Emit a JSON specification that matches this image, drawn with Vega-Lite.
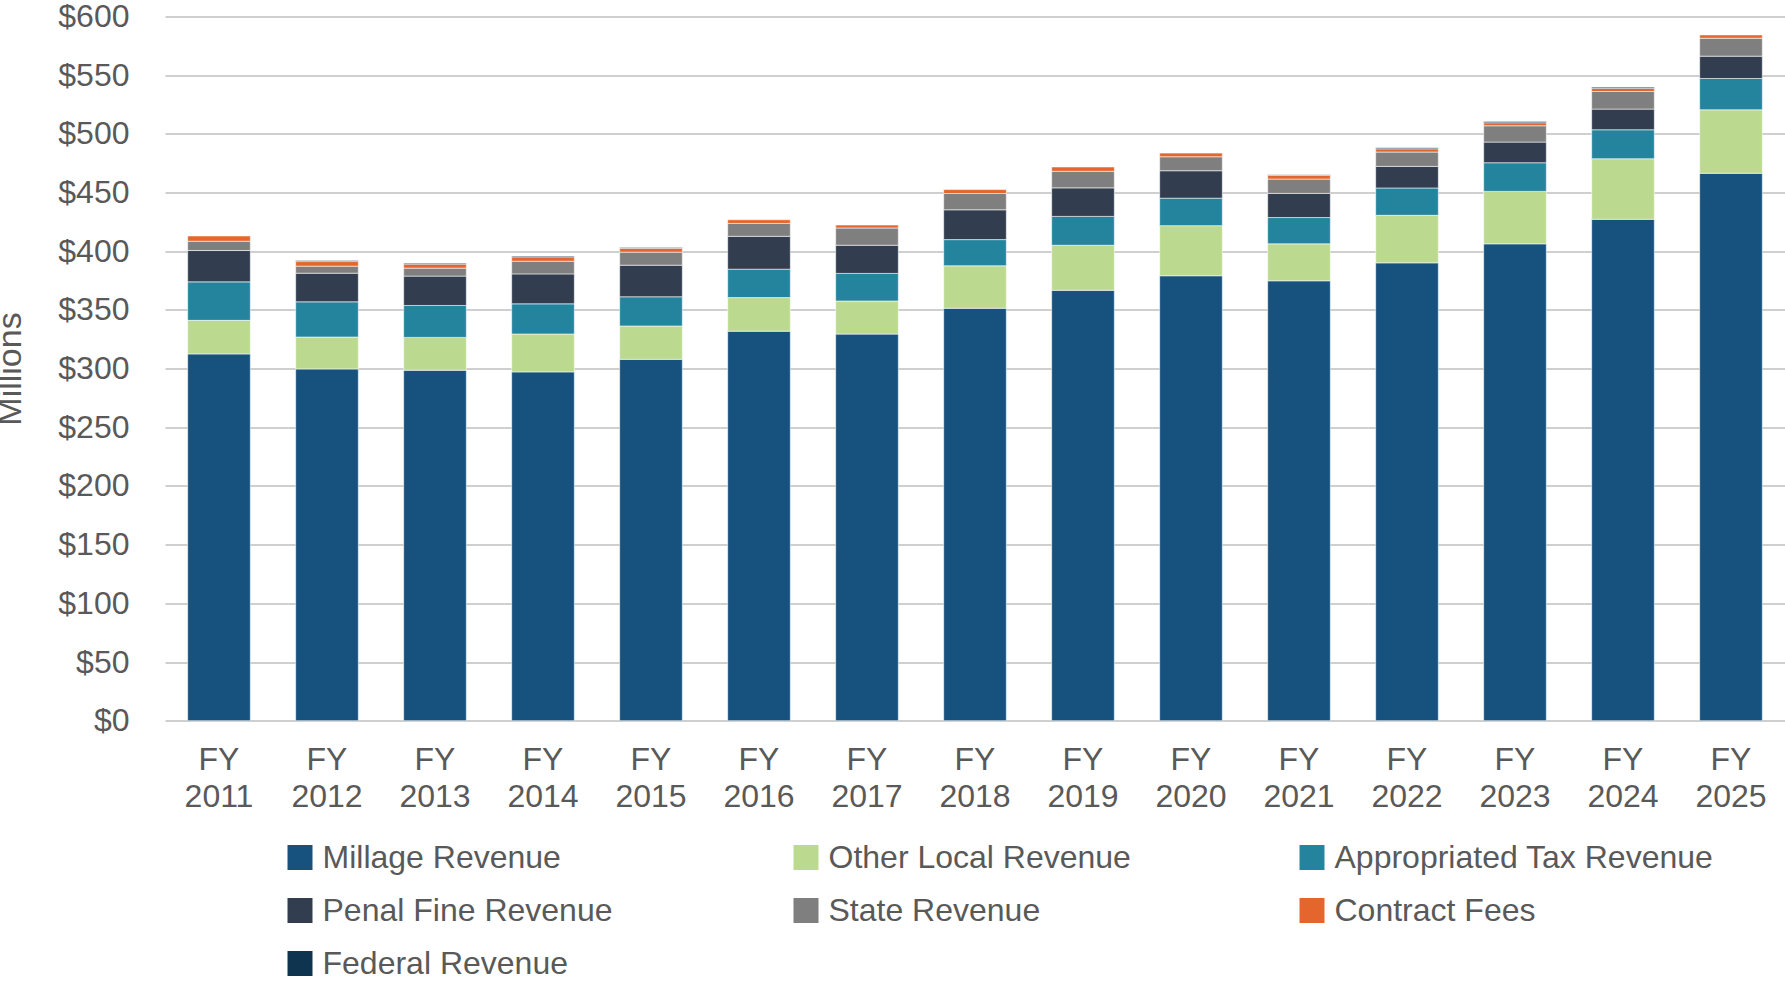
{
  "$schema": "https://vega.github.io/schema/vega-lite/v6.json",
  "width": 1620,
  "height": 704.2,
  "autosize": "none",
  "padding": {"left": 165, "top": 16.5, "right": 0, "bottom": 260.3},
  "config": {
    "view": {"stroke": null},
    "font": "Liberation Sans"
  },
  "data": {
    "values": [
      {"year": "FY 2011", "series": "Millage Revenue", "idx": 1, "value": 312.5},
      {"year": "FY 2011", "series": "Other Local Revenue", "idx": 2, "value": 28.6},
      {"year": "FY 2011", "series": "Appropriated Tax Revenue", "idx": 3, "value": 32.8},
      {"year": "FY 2011", "series": "Penal Fine Revenue", "idx": 4, "value": 26.7},
      {"year": "FY 2011", "series": "State Revenue", "idx": 5, "value": 7.9},
      {"year": "FY 2011", "series": "Contract Fees", "idx": 6, "value": 4.5},

      {"year": "FY 2012", "series": "Millage Revenue", "idx": 1, "value": 299.7},
      {"year": "FY 2012", "series": "Other Local Revenue", "idx": 2, "value": 27.2},
      {"year": "FY 2012", "series": "Appropriated Tax Revenue", "idx": 3, "value": 30.0},
      {"year": "FY 2012", "series": "Penal Fine Revenue", "idx": 4, "value": 24.4},
      {"year": "FY 2012", "series": "State Revenue", "idx": 5, "value": 6.0},
      {"year": "FY 2012", "series": "Contract Fees", "idx": 6, "value": 3.9},
      {"year": "FY 2012", "series": "Federal Revenue", "idx": 7, "value": 0.9},

      {"year": "FY 2013", "series": "Millage Revenue", "idx": 1, "value": 298.6},
      {"year": "FY 2013", "series": "Other Local Revenue", "idx": 2, "value": 28.0},
      {"year": "FY 2013", "series": "Appropriated Tax Revenue", "idx": 3, "value": 27.2},
      {"year": "FY 2013", "series": "Penal Fine Revenue", "idx": 4, "value": 25.0},
      {"year": "FY 2013", "series": "State Revenue", "idx": 5, "value": 6.8},
      {"year": "FY 2013", "series": "Contract Fees", "idx": 6, "value": 3.4},
      {"year": "FY 2013", "series": "Federal Revenue", "idx": 7, "value": 0.8},

      {"year": "FY 2014", "series": "Millage Revenue", "idx": 1, "value": 297.2},
      {"year": "FY 2014", "series": "Other Local Revenue", "idx": 2, "value": 32.3},
      {"year": "FY 2014", "series": "Appropriated Tax Revenue", "idx": 3, "value": 25.7},
      {"year": "FY 2014", "series": "Penal Fine Revenue", "idx": 4, "value": 25.5},
      {"year": "FY 2014", "series": "State Revenue", "idx": 5, "value": 10.8},
      {"year": "FY 2014", "series": "Contract Fees", "idx": 6, "value": 3.7},
      {"year": "FY 2014", "series": "Federal Revenue", "idx": 7, "value": 0.8},

      {"year": "FY 2015", "series": "Millage Revenue", "idx": 1, "value": 307.9},
      {"year": "FY 2015", "series": "Other Local Revenue", "idx": 2, "value": 28.4},
      {"year": "FY 2015", "series": "Appropriated Tax Revenue", "idx": 3, "value": 24.9},
      {"year": "FY 2015", "series": "Penal Fine Revenue", "idx": 4, "value": 26.9},
      {"year": "FY 2015", "series": "State Revenue", "idx": 5, "value": 11.1},
      {"year": "FY 2015", "series": "Contract Fees", "idx": 6, "value": 3.3},
      {"year": "FY 2015", "series": "Federal Revenue", "idx": 7, "value": 0.6},

      {"year": "FY 2016", "series": "Millage Revenue", "idx": 1, "value": 331.9},
      {"year": "FY 2016", "series": "Other Local Revenue", "idx": 2, "value": 28.6},
      {"year": "FY 2016", "series": "Appropriated Tax Revenue", "idx": 3, "value": 24.2},
      {"year": "FY 2016", "series": "Penal Fine Revenue", "idx": 4, "value": 28.0},
      {"year": "FY 2016", "series": "State Revenue", "idx": 5, "value": 11.0},
      {"year": "FY 2016", "series": "Contract Fees", "idx": 6, "value": 3.1},

      {"year": "FY 2017", "series": "Millage Revenue", "idx": 1, "value": 329.4},
      {"year": "FY 2017", "series": "Other Local Revenue", "idx": 2, "value": 28.2},
      {"year": "FY 2017", "series": "Appropriated Tax Revenue", "idx": 3, "value": 23.5},
      {"year": "FY 2017", "series": "Penal Fine Revenue", "idx": 4, "value": 24.0},
      {"year": "FY 2017", "series": "State Revenue", "idx": 5, "value": 14.7},
      {"year": "FY 2017", "series": "Contract Fees", "idx": 6, "value": 2.5},

      {"year": "FY 2018", "series": "Millage Revenue", "idx": 1, "value": 351.4},
      {"year": "FY 2018", "series": "Other Local Revenue", "idx": 2, "value": 36.2},
      {"year": "FY 2018", "series": "Appropriated Tax Revenue", "idx": 3, "value": 22.3},
      {"year": "FY 2018", "series": "Penal Fine Revenue", "idx": 4, "value": 25.4},
      {"year": "FY 2018", "series": "State Revenue", "idx": 5, "value": 13.9},
      {"year": "FY 2018", "series": "Contract Fees", "idx": 6, "value": 3.3},

      {"year": "FY 2019", "series": "Millage Revenue", "idx": 1, "value": 366.7},
      {"year": "FY 2019", "series": "Other Local Revenue", "idx": 2, "value": 38.4},
      {"year": "FY 2019", "series": "Appropriated Tax Revenue", "idx": 3, "value": 24.6},
      {"year": "FY 2019", "series": "Penal Fine Revenue", "idx": 4, "value": 24.3},
      {"year": "FY 2019", "series": "State Revenue", "idx": 5, "value": 14.1},
      {"year": "FY 2019", "series": "Contract Fees", "idx": 6, "value": 3.7},

      {"year": "FY 2020", "series": "Millage Revenue", "idx": 1, "value": 379.1},
      {"year": "FY 2020", "series": "Other Local Revenue", "idx": 2, "value": 42.7},
      {"year": "FY 2020", "series": "Appropriated Tax Revenue", "idx": 3, "value": 23.4},
      {"year": "FY 2020", "series": "Penal Fine Revenue", "idx": 4, "value": 23.4},
      {"year": "FY 2020", "series": "State Revenue", "idx": 5, "value": 11.9},
      {"year": "FY 2020", "series": "Contract Fees", "idx": 6, "value": 3.1},

      {"year": "FY 2021", "series": "Millage Revenue", "idx": 1, "value": 374.8},
      {"year": "FY 2021", "series": "Other Local Revenue", "idx": 2, "value": 31.5},
      {"year": "FY 2021", "series": "Appropriated Tax Revenue", "idx": 3, "value": 22.4},
      {"year": "FY 2021", "series": "Penal Fine Revenue", "idx": 4, "value": 20.6},
      {"year": "FY 2021", "series": "State Revenue", "idx": 5, "value": 12.2},
      {"year": "FY 2021", "series": "Contract Fees", "idx": 6, "value": 3.2},
      {"year": "FY 2021", "series": "Federal Revenue", "idx": 7, "value": 0.5},

      {"year": "FY 2022", "series": "Millage Revenue", "idx": 1, "value": 390.1},
      {"year": "FY 2022", "series": "Other Local Revenue", "idx": 2, "value": 40.5},
      {"year": "FY 2022", "series": "Appropriated Tax Revenue", "idx": 3, "value": 23.3},
      {"year": "FY 2022", "series": "Penal Fine Revenue", "idx": 4, "value": 18.4},
      {"year": "FY 2022", "series": "State Revenue", "idx": 5, "value": 12.2},
      {"year": "FY 2022", "series": "Contract Fees", "idx": 6, "value": 2.8},
      {"year": "FY 2022", "series": "Federal Revenue", "idx": 7, "value": 0.9},

      {"year": "FY 2023", "series": "Millage Revenue", "idx": 1, "value": 406.3},
      {"year": "FY 2023", "series": "Other Local Revenue", "idx": 2, "value": 44.7},
      {"year": "FY 2023", "series": "Appropriated Tax Revenue", "idx": 3, "value": 24.4},
      {"year": "FY 2023", "series": "Penal Fine Revenue", "idx": 4, "value": 17.6},
      {"year": "FY 2023", "series": "State Revenue", "idx": 5, "value": 13.9},
      {"year": "FY 2023", "series": "Contract Fees", "idx": 6, "value": 2.6},
      {"year": "FY 2023", "series": "Federal Revenue", "idx": 7, "value": 1.1},

      {"year": "FY 2024", "series": "Millage Revenue", "idx": 1, "value": 427.2},
      {"year": "FY 2024", "series": "Other Local Revenue", "idx": 2, "value": 51.6},
      {"year": "FY 2024", "series": "Appropriated Tax Revenue", "idx": 3, "value": 24.7},
      {"year": "FY 2024", "series": "Penal Fine Revenue", "idx": 4, "value": 17.6},
      {"year": "FY 2024", "series": "State Revenue", "idx": 5, "value": 15.0},
      {"year": "FY 2024", "series": "Contract Fees", "idx": 6, "value": 2.6},
      {"year": "FY 2024", "series": "Federal Revenue", "idx": 7, "value": 1.1},

      {"year": "FY 2025", "series": "Millage Revenue", "idx": 1, "value": 466.4},
      {"year": "FY 2025", "series": "Other Local Revenue", "idx": 2, "value": 54.1},
      {"year": "FY 2025", "series": "Appropriated Tax Revenue", "idx": 3, "value": 26.7},
      {"year": "FY 2025", "series": "Penal Fine Revenue", "idx": 4, "value": 19.0},
      {"year": "FY 2025", "series": "State Revenue", "idx": 5, "value": 15.3},
      {"year": "FY 2025", "series": "Contract Fees", "idx": 6, "value": 2.8}
    ]
  },
  "mark": {"type": "bar", "stroke": "#ffffff", "strokeWidth": 1, "strokeOpacity": 0.55},
  "encoding": {
    "x": {
      "field": "year",
      "type": "ordinal",
      "sort": null,
      "scale": {"paddingInner": 0.42, "paddingOuter": 0.21},
      "axis": {
        "title": null,
        "domain": false,
        "ticks": false,
        "labelAngle": 0,
        "labelFont": "Liberation Sans",
        "labelFontSize": 32,
        "labelColor": "#595959",
        "labelPadding": 24,
        "labelLineHeight": 37,
        "labelBaseline": "top",
        "labelExpr": "split(datum.label, ' ')"
      }
    },
    "y": {
      "field": "value",
      "type": "quantitative",
      "stack": "zero",
      "scale": {"domain": [0, 600], "nice": false},
      "axis": {
        "values": [0, 50, 100, 150, 200, 250, 300, 350, 400, 450, 500, 550, 600],
        "format": "$,.0f",
        "title": "Millions",
        "titleFont": "Liberation Sans",
        "titleFontSize": 34,
        "titleFontWeight": "normal",
        "titleColor": "#595959",
        "titleAngle": -90,
        "titleX": -145,
        "titleY": 352,
        "titleAlign": "center",
        "titleBaseline": "alphabetic",
        "domain": false,
        "ticks": false,
        "labelFont": "Liberation Sans",
        "labelFontSize": 32,
        "labelColor": "#595959",
        "labelPadding": 36,
        "gridColor": "#BFBFBF",
        "gridWidth": 1.4
      }
    },
    "color": {
      "field": "series",
      "type": "nominal",
      "scale": {
        "domain": ["Millage Revenue", "Other Local Revenue", "Appropriated Tax Revenue", "Penal Fine Revenue", "State Revenue", "Contract Fees", "Federal Revenue"],
        "range": ["#17527E", "#BBDA90", "#25849D", "#323E4F", "#7F7F7F", "#E4662D", "#0F3450"]
      },
      "legend": {
        "title": null,
        "orient": "none",
        "legendX": 119,
        "legendY": 825,
        "direction": "horizontal",
        "columns": 3,
        "gridAlign": "all",
        "columnPadding": 88,
        "rowPadding": 21,
        "symbolType": "square",
        "symbolSize": 625,
        "symbolStrokeWidth": 0,
        "symbolOpacity": 1,
        "labelFont": "Liberation Sans",
        "labelFontSize": 32,
        "labelColor": "#595959",
        "labelOffset": 6.5,
        "labelLimit": 600
      }
    },
    "order": {"field": "idx", "type": "quantitative", "sort": "ascending"}
  }
}
